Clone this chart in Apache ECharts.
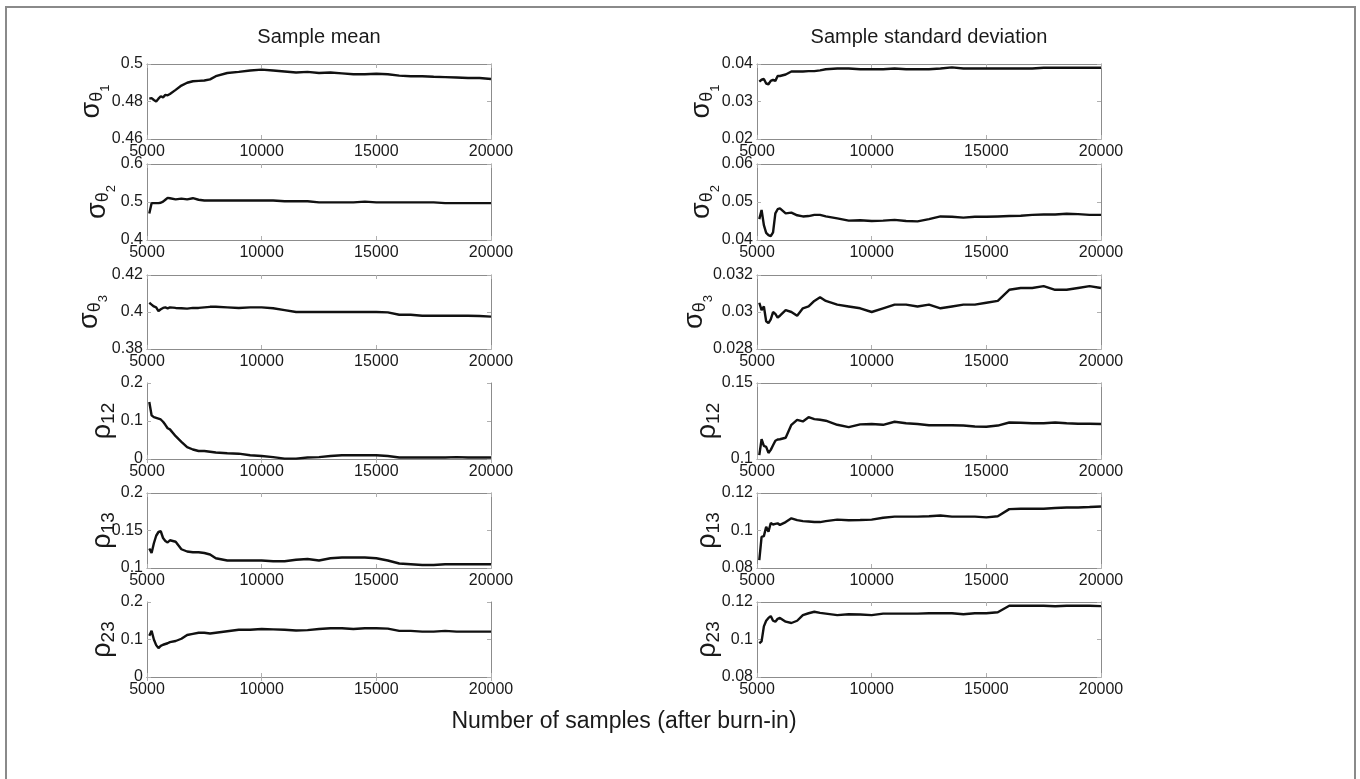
<!DOCTYPE html>
<html>
<head>
<meta charset="utf-8">
<title>MCMC convergence</title>
<script src="https://cdn.jsdelivr.net/npm/echarts@6/dist/echarts.min.js"></script>
<style>
  html, body { margin: 0; padding: 0; background: #fff; }
  #view { width: 1360px; height: 779px; }
</style>
</head>
<body>
<div id="view"></div>
<script>
// number of samples (after burn-in)
let sampleX = [5100, 5200, 5300, 5400, 5500, 5600, 5700, 5800, 5900, 6000,
  6250, 6500, 6750, 7000, 7250, 7500, 7750, 8000,
  8500, 9000, 9500, 10000, 10500, 11000, 11500, 12000, 12500, 13000, 13500, 14000,
  14500, 15000, 15500, 16000, 16500, 17000, 17500, 18000, 18500, 19000, 19500, 20000];

// sample mean
let meanSigma1 = [.4815, .4818, .4808, .4800, .4815, .4828, .4822, .4835, .4833, .4840,
  .4862, .4885, .4900, .4908, .4910, .4912, .4918, .4935,
  .4952, .4958, .4965, .4970, .4965, .4960, .4955, .4958, .4952, .4955, .4950, .4945,
  .4945, .4948, .4945, .4938, .4935, .4935, .4932, .4930, .4928, .4925, .4925, .4920];
let meanSigma2 = [.470, .497, .497, .497, .497, .498, .501, .506, .511, .510,
  .507, .509, .507, .510, .506, .504, .504, .504,
  .504, .504, .504, .504, .504, .502, .502, .502, .499, .499, .499, .499,
  .501, .499, .499, .499, .499, .499, .499, .497, .497, .497, .497, .497];
let meanSigma3 = [.4050, .4040, .4030, .4025, .4005, .4015, .4022, .4025, .4020, .4025,
  .4022, .4020, .4018, .4022, .4022, .4025, .4028, .4028,
  .4025, .4022, .4025, .4025, .4020, .4010, .4000, .4000, .4000, .4000, .4000, .4000,
  .4000, .4000, .3998, .3985, .3985, .3980, .3980, .3980, .3980, .3980, .3978, .3975];
let meanRho12 = [.150, .115, .110, .108, .106, .104, .098, .090, .081, .078,
  .060, .045, .031, .025, .021, .021, .019, .017,
  .015, .014, .010, .008, .005, .001, .001, .004, .005, .008, .010, .010,
  .010, .010, .008, .004, .004, .004, .004, .004, .005, .004, .004, .004];
let meanRho13 = [.126, .120, .133, .143, .148, .149, .140, .136, .134, .137,
  .135, .125, .122, .121, .121, .120, .118, .113,
  .110, .110, .110, .110, .109, .109, .111, .112, .110, .113, .114, .114,
  .114, .113, .110, .106, .105, .104, .104, .105, .105, .105, .105, .105];
let meanRho23 = [.110, .123, .100, .085, .077, .083, .086, .088, .090, .093,
  .096, .102, .112, .115, .118, .118, .116, .118,
  .122, .126, .126, .128, .127, .126, .124, .125, .128, .130, .130, .128,
  .130, .130, .129, .123, .123, .121, .121, .123, .121, .121, .121, .121];

// sample standard deviation
let sdSigma1 = [.0353, .0358, .0360, .0348, .0346, .0355, .0358, .0355, .0368, .0368,
  .0372, .0380, .0380, .0380, .0381, .0381, .0383, .0386,
  .0388, .0388, .0386, .0386, .0386, .0388, .0386, .0386, .0386, .0388, .0391, .0388,
  .0388, .0388, .0388, .0388, .0388, .0388, .0390, .0390, .0390, .0390, .0390, .0390];
let sdSigma2 = [.0455, .0479, .0439, .0419, .0413, .0410, .0420, .0470, .0481, .0483,
  .0470, .0472, .0465, .0462, .0463, .0466, .0466, .0462,
  .0457, .0451, .0452, .0450, .0451, .0453, .0450, .0449, .0455, .0462, .0461, .0459,
  .0461, .0461, .0462, .0463, .0464, .0466, .0467, .0467, .0469, .0468, .0466, .0466];
let sdSigma3 = [.0305, .0301, .0303, .0295, .0294, .0296, .0300, .0299, .0297, .0298,
  .0301, .0300, .0298, .0302, .0303, .0306, .0308, .0306,
  .0304, .0303, .0302, .0300, .0302, .0304, .0304, .0303, .0304, .0302, .0303, .0304,
  .0304, .0305, .0306, .0312, .0313, .0313, .0314, .0312, .0312, .0313, .0314, .0313];
let sdRho12 = [.1026, .1130, .1086, .1080, .1040, .1060, .1090, .1120, .1128, .1130,
  .1140, .1225, .1258, .1247, .1275, .1262, .1258, .1252,
  .1225, .1210, .1228, .1230, .1225, .1245, .1235, .1230, .1222, .1222, .1222, .1220,
  .1214, .1212, .1220, .1240, .1238, .1235, .1235, .1240, .1235, .1232, .1232, .1230];
let sdRho13 = [.0842, .0966, .0970, .1020, .0993, .1040, .1032, .1035, .1038, .1030,
  .1045, .1065, .1055, .1050, .1048, .1045, .1045, .1050,
  .1058, .1055, .1056, .1058, .1068, .1074, .1074, .1074, .1076, .1080, .1074, .1074,
  .1074, .1070, .1076, .1114, .1116, .1116, .1116, .1120, .1123, .1123, .1125, .1128];
let sdRho23 = [.0980, .0990, .1070, .1100, .1115, .1125, .1100, .1095, .1110, .1115,
  .1095, .1088, .1100, .1130, .1140, .1148, .1142, .1138,
  .1130, .1135, .1133, .1130, .1138, .1138, .1138, .1138, .1140, .1140, .1140, .1135,
  .1140, .1140, .1145, .1180, .1180, .1180, .1180, .1177, .1180, .1180, .1180, .1178];

// axis ranges [min, max, interval]
let meanRanges = [[0.46, 0.5, 0.02], [0.4, 0.6, 0.1], [0.38, 0.42, 0.02], [0, 0.2, 0.1], [0.1, 0.2, 0.05], [0, 0.2, 0.1]];
let sdRanges = [[0.02, 0.04, 0.01], [0.04, 0.06, 0.01], [0.028, 0.032, 0.002], [0.1, 0.15, 0.05], [0.08, 0.12, 0.02], [0.08, 0.12, 0.02]];
let xTicks = [5000, 20000, 5000];

let yNames = [
  "{a|σ}{b|θ}{c|1}", "{a|σ}{b|θ}{c|2}", "{a|σ}{b|θ}{c|3}",
  "{a|ρ}{s|12}", "{a|ρ}{s|13}", "{a|ρ}{s|23}",
];
let columnTitles = ["Sample mean", "Sample standard deviation"];
let xTitle = "Number of samples (after burn-in)";

let meanList = [meanSigma1, meanSigma2, meanSigma3, meanRho12, meanRho13, meanRho23];
let sdList = [sdSigma1, sdSigma2, sdSigma3, sdRho12, sdRho13, sdRho23];

// layout
let colLeft = [147, 757];
let plotW = 344;
let rowTop = [64, 164, 275, 383, 493, 602];
let rowH = [75, 76, 74, 76, 75, 75];
let nameGaps = [[35, 29, 37, 29, 29, 29], [35, 35, 42, 34, 34, 34]];

let tickFont = "'Liberation Sans Narrow', 'Liberation Sans', Arial, sans-serif";
let textFont = "'Liberation Sans', Arial, sans-serif";
let boxColor = "#8c8c8c";

let myChart = echarts.init(document.getElementById("view"), null, { renderer: "canvas" });

let grids = [];
let xAxes = [];
let yAxes = [];
let seriesList = [];

[meanList, sdList].forEach((list, col) => {
  let ranges = col === 0 ? meanRanges : sdRanges;
  list.forEach((vals, row) => {
    let p = grids.length;
    grids.push({
      left: colLeft[col],
      top: rowTop[row],
      width: plotW,
      height: rowH[row],
      outerBoundsMode: "none",
      show: false,
    });
    let tick = { show: true, inside: true, length: 4, lineStyle: { color: "#b0b0b0", width: 1 } };
    let line = { show: true, lineStyle: { color: boxColor, width: 1 } };
    xAxes.push({
      gridIndex: p, type: "value", position: "bottom",
      min: xTicks[0], max: xTicks[1], interval: xTicks[2],
      axisLine: line, axisTick: tick, splitLine: { show: false },
      axisLabel: {
        color: "#1a1a1a", fontSize: 16, fontFamily: tickFont, margin: 5,
        showMinLabel: true, showMaxLabel: true,
        formatter: (v) => String(v),
      },
    });
    xAxes.push({
      gridIndex: p, type: "value", position: "top",
      min: xTicks[0], max: xTicks[1], interval: xTicks[2],
      axisLine: line, axisTick: tick, splitLine: { show: false }, axisLabel: { show: false },
    });
    let r = ranges[row];
    yAxes.push({
      gridIndex: p, type: "value", position: "left",
      min: r[0], max: r[1], interval: r[2],
      axisLine: line, axisTick: tick, splitLine: { show: false },
      axisLabel: { color: "#1a1a1a", fontSize: 16, fontFamily: tickFont, margin: 4, showMinLabel: true, showMaxLabel: true },
      name: yNames[row],
      nameLocation: "middle",
      nameRotate: 90,
      nameGap: nameGaps[col][row],
      nameMoveOverlap: false,
      nameTextStyle: {
        color: "#1a1a1a",
        fontFamily: textFont,
        rich: {
          a: { fontSize: 27, fontFamily: textFont, color: "#1a1a1a" },
          b: { fontSize: 18, fontFamily: textFont, color: "#1a1a1a", padding: [12, 0, 0, 0] },
          c: { fontSize: 13, fontFamily: textFont, color: "#1a1a1a", padding: [28, 0, 0, 0] },
          s: { fontSize: 19, fontFamily: textFont, color: "#1a1a1a", padding: [11, 0, 0, 0] },
        },
      },
    });
    yAxes.push({
      gridIndex: p, type: "value", position: "right",
      min: r[0], max: r[1], interval: r[2],
      axisLine: line, axisTick: tick, splitLine: { show: false }, axisLabel: { show: false },
    });
    seriesList.push({
      type: "line",
      xAxisIndex: 2 * p,
      yAxisIndex: 2 * p,
      showSymbol: false,
      symbol: "none",
      lineStyle: { color: "#111", width: 2.4 },
      data: sampleX.map((x, i) => [x, vals[i]]),
      z: 5,
    });
  });
});

let option = {
  backgroundColor: "#fff",
  animation: false,
  grid: grids,
  xAxis: xAxes,
  yAxis: yAxes,
  series: seriesList,
  graphic: [
    {
      type: "rect",
      shape: { x: 6, y: 7, width: 1349, height: 800 },
      style: { fill: "none", stroke: "#8a8a8a", lineWidth: 2 },
      silent: true,
    },
    {
      type: "text", x: colLeft[0] + plotW / 2, y: 37,
      style: { text: columnTitles[0], font: "20px " + textFont, fill: "#1a1a1a", textAlign: "center", textVerticalAlign: "middle" },
    },
    {
      type: "text", x: colLeft[1] + plotW / 2, y: 37,
      style: { text: columnTitles[1], font: "20px " + textFont, fill: "#1a1a1a", textAlign: "center", textVerticalAlign: "middle" },
    },
    {
      type: "text", x: (colLeft[0] + colLeft[1] + plotW) / 2, y: 722,
      style: { text: xTitle, font: "23px " + textFont, fill: "#1a1a1a", textAlign: "center", textVerticalAlign: "middle" },
    },
  ],
};
myChart.setOption(option);
</script>
</body>
</html>
